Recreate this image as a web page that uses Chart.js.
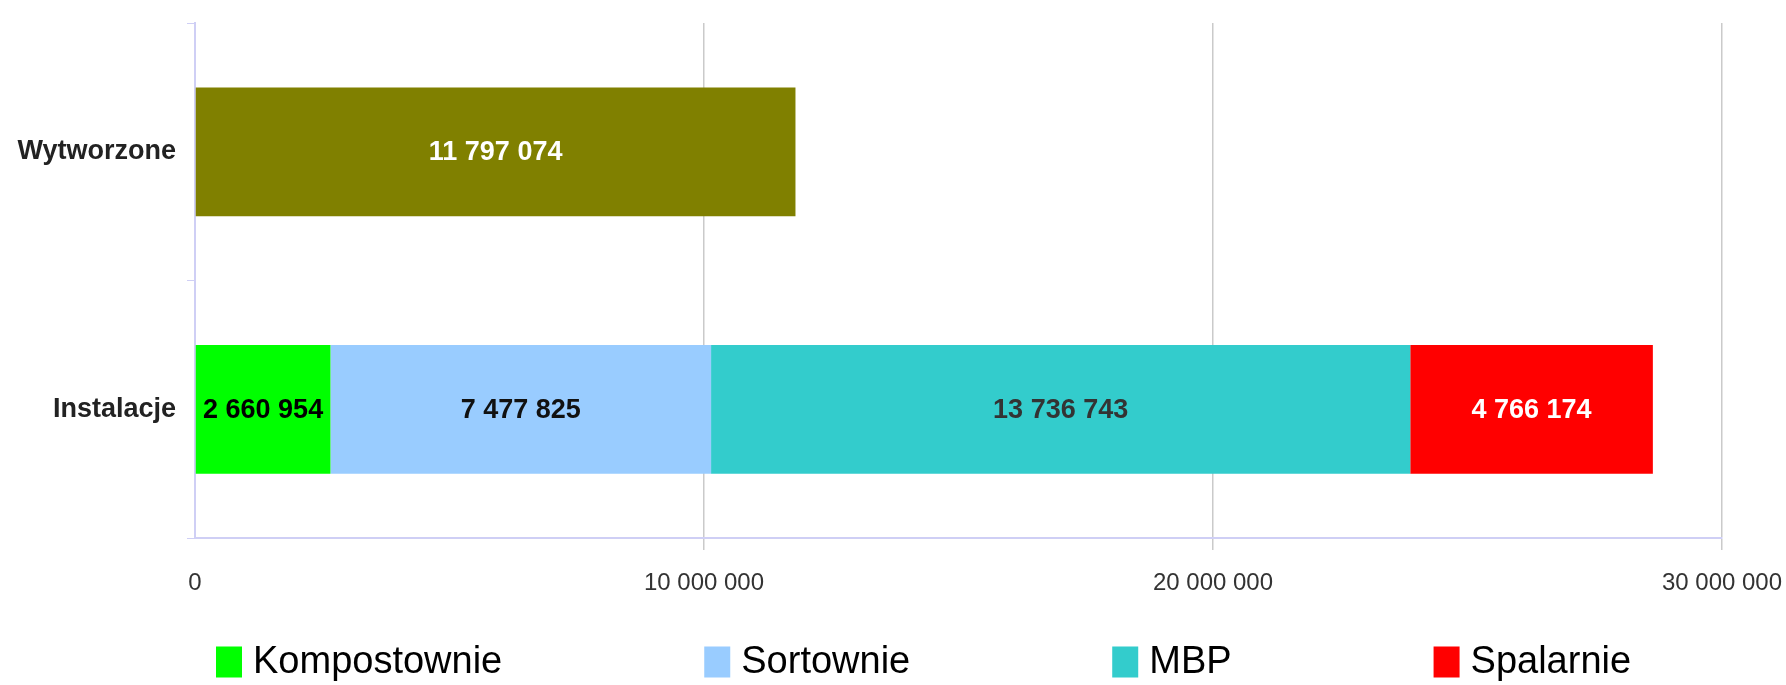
<!DOCTYPE html>
<html>
<head>
<meta charset="utf-8">
<script src="https://cdn.jsdelivr.net/npm/chart.js@4.4.1/dist/chart.umd.min.js"></script>
<style>
    html, body { margin: 0; padding: 0; background: #fff; }
    #wrap { width: 1786px; height: 685px; }
</style>
</head>
<body>
<div id="wrap"><canvas id="chartContainer"></canvas></div>
<script>
// categories and values (tonnes)
const categories = ['Wytworzone', 'Instalacje'];
const wytworzone = [11797074, null];
const kompostownie = [null, 2660954];
const sortownie = [null, 7477825];
const mbp = [null, 13736743];
const spalarnie = [null, 4766174];
const xTicks = [0, 10000000, 20000000, 30000000];

const axisColor = '#cfcff5';
const gridColor = '#cacaca';
const fontFamily = "'Liberation Sans', Arial, sans-serif";

function fmt(v) {
    return String(v).replace(/\B(?=(\d{3})+(?!\d))/g, ' ');
}

// value text in the middle of every bar segment
const barLabels = {
    id: 'barLabels',
    afterDatasetsDraw(chart) {
        const ctx = chart.ctx;
        ctx.save();
        ctx.font = "bold 27px " + fontFamily;
        ctx.textAlign = 'center';
        ctx.textBaseline = 'middle';
        chart.data.datasets.forEach((ds, i) => {
            const meta = chart.getDatasetMeta(i);
            meta.data.forEach((bar, j) => {
                const v = ds.data[j];
                if (v == null) return;
                const p = bar.getCenterPoint();
                ctx.fillStyle = ds.labelColor;
                ctx.fillText(fmt(v), p.x, p.y + 1);
            });
        });
        ctx.restore();
    }
};

// legend row under the axis, wide gaps between items
const wideLegend = {
    id: 'wideLegend',
    afterDraw(chart, args, opts) {
        const ctx = chart.ctx;
        const area = chart.chartArea;
        ctx.save();
        ctx.font = opts.size + "px " + fontFamily;
        ctx.textBaseline = 'middle';
        let x = area.left + opts.offsetX;
        const cy = area.bottom + opts.offsetY;
        chart.data.datasets.forEach(ds => {
            if (ds.hideInLegend) return;
            ctx.fillStyle = ds.backgroundColor;
            ctx.fillRect(x, cy - opts.boxH / 2, opts.boxW, opts.boxH);
            x += opts.boxW + opts.boxGap;
            ctx.fillStyle = '#000';
            ctx.fillText(ds.label, x, cy + 1);
            x += ctx.measureText(ds.label).width + opts.itemGap;
        });
        ctx.restore();
    }
};

const ctx = document.getElementById('chartContainer').getContext('2d');
new Chart(ctx, {
    type: 'bar',
    data: {
        labels: categories,
        datasets: [
            { label: 'Wytworzone', data: wytworzone, backgroundColor: '#808000', labelColor: '#ffffff', hideInLegend: true },
            { label: 'Kompostownie', data: kompostownie, backgroundColor: '#00ff00', labelColor: '#000000' },
            { label: 'Sortownie', data: sortownie, backgroundColor: '#99ccff', labelColor: '#111111' },
            { label: 'MBP', data: mbp, backgroundColor: '#33cccc', labelColor: '#333333' },
            { label: 'Spalarnie', data: spalarnie, backgroundColor: '#ff0000', labelColor: '#ffffff' }
        ]
    },
    options: {
        indexAxis: 'y',
        responsive: true,
        maintainAspectRatio: false,
        animation: false,
        datasets: {
            bar: { barPercentage: 0.5, categoryPercentage: 1, borderWidth: 0 }
        },
        layout: {
            padding: { top: 23, right: 64, bottom: 87, left: 0 }
        },
        scales: {
            x: {
                stacked: true,
                min: 0,
                max: 30000000,
                afterFit: s => {
                    s.height = 60;
                    s.paddingLeft = 0;
                    s.paddingRight = 0;
                },
                afterBuildTicks: s => { s.ticks = xTicks.map(v => ({ value: v })); },
                border: { color: axisColor, width: 2 },
                grid: {
                    color: c => c.tick && c.tick.value === 0 ? 'rgba(0,0,0,0)' : gridColor,
                    tickLength: 12,
                    lineWidth: 1.5
                },
                ticks: {
                    padding: 19,
                    color: '#333',
                    font: { family: fontFamily, size: 24 },
                    callback: v => fmt(v)
                }
            },
            y: {
                stacked: true,
                afterFit: s => {
                    s.width = 195;
                    s.paddingTop = 0;
                    s.paddingBottom = 0;
                },
                border: { color: axisColor, width: 2 },
                grid: {
                    offset: true,
                    drawOnChartArea: false,
                    color: axisColor,
                    tickLength: 8
                },
                ticks: {
                    padding: 11,
                    color: '#222',
                    font: { family: fontFamily, size: 27, weight: 'bold' }
                }
            }
        },
        plugins: {
            legend: { display: false },
            tooltip: { enabled: false },
            wideLegend: { size: 38, boxW: 26, boxH: 31, boxGap: 11, itemGap: 202, offsetX: 21, offsetY: 124 }
        }
    },
    plugins: [barLabels, wideLegend]
});
</script>
</body>
</html>
